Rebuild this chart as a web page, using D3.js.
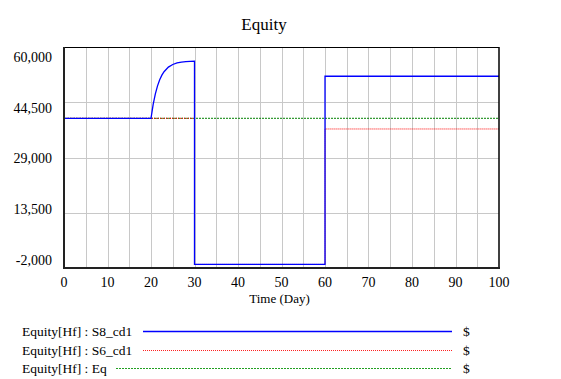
<!DOCTYPE html>
<html><head><meta charset="utf-8">
<script src="https://cdn.jsdelivr.net/npm/d3@7/dist/d3.min.js"></script>
<style>body{margin:0;background:#fff}text{font-family:"Liberation Serif","DejaVu Serif",serif}</style>
</head><body><svg id="c" width="561" height="379"></svg>
<script>
const title = "Equity";
const xLabel = "Time (Day)";
const xTicks = [0,10,20,30,40,50,60,70,80,90,100];
const yTicks = [-2000,13500,29000,44500,60000];
const seriesNames = ["Equity[Hf] : S8_cd1","Equity[Hf] : S6_cd1","Equity[Hf] : Eq"];
const unitLabel = "$";
// S8_cd1 (blue)
const s8Time  = [0,20,20.5,21,21.5,22,22.5,23,24,25,26,27,28,29,30,30,60,60,100];
const s8Value = [40000,40000,43900,46860,49100,50800,52100,53060,54360,55100,55530,55780,55920,55990,56040,-1000,-1000,51800,51800];
// S6_cd1 (red)
const s6Time  = [0,30,30,60,60,100];
const s6Value = [40000,40000,-1000,-1000,37000,37000];
// Eq (green)
const eqTime  = [0,100];
const eqValue = [40000,40000];

const FONT = "Liberation Serif, DejaVu Serif, serif";
const svg = d3.select("#c");
const L=64,R=499,T=47,B=268;
const x = d3.scaleLinear().domain([0,100]).range([L,R]);
const y = d3.scaleLinear().domain([-2000,60000]).range([B,T]);
const yLab = d3.scaleLinear().domain([-2000,60000]).range([B-8,T+10]);

// grid
svg.append("g").selectAll("line").data(d3.range(5,100,5)).join("line")
  .attr("x1",d=>Math.round(x(d))+0.5).attr("x2",d=>Math.round(x(d))+0.5)
  .attr("y1",T).attr("y2",B).attr("stroke","#c8c8c8").attr("stroke-width",1);
svg.append("g").selectAll("line").data(yTicks.slice(1,-1)).join("line")
  .attr("y1",d=>Math.round(y(d))+0.5).attr("y2",d=>Math.round(y(d))+0.5)
  .attr("x1",L).attr("x2",R).attr("stroke","#c8c8c8").attr("stroke-width",1);

// series
const line = d3.line().x(d=>x(d[0])).y(d=>y(d[1]));
const mk = (t,v)=>t.map((d,i)=>[d,v[i]]);
svg.append("path").datum(mk(eqTime,eqValue)).attr("d",line).attr("fill","none")
  .attr("stroke","#008000").attr("stroke-width",1).attr("stroke-dasharray","2,1");
svg.append("path").datum(mk(s6Time,s6Value)).attr("d",line).attr("fill","none")
  .attr("stroke","#ff0000").attr("stroke-width",1).attr("stroke-dasharray","1,1");
svg.append("path").datum(mk(s8Time,s8Value)).attr("d",line).attr("fill","none")
  .attr("stroke","#0000ff").attr("stroke-width",1.3);

// frame
svg.append("line").attr("x1",L).attr("x2",R).attr("y1",T+0.5).attr("y2",T+0.5).attr("stroke","#000").attr("stroke-width",1.2);
svg.append("line").attr("x1",R).attr("x2",R).attr("y1",T).attr("y2",B).attr("stroke","#000").attr("stroke-width",1.5);
svg.append("line").attr("x1",L).attr("x2",L).attr("y1",T).attr("y2",B+1).attr("stroke","#222").attr("stroke-width",2);
svg.append("line").attr("x1",L).attr("x2",R+1).attr("y1",B).attr("y2",B).attr("stroke","#222").attr("stroke-width",2);

// axes labels
const fmt = v => d3.format(",")(v).replace("\u2212","-");
svg.append("g").selectAll("text").data(yTicks).join("text")
  .attr("font-family",FONT)
  .attr("x",52).attr("y",d=>yLab(d)).attr("dy","0.35em").attr("text-anchor","end")
  .attr("font-size",14).attr("fill","#000").text(d=>fmt(d));
svg.append("g").selectAll("text").data(xTicks).join("text")
  .attr("font-family",FONT)
  .attr("x",d=>x(d)).attr("y",287).attr("text-anchor","middle")
  .attr("font-size",14).attr("fill","#000").text(d=>d);
svg.append("text").attr("font-family",FONT).attr("x",(L+R)/2-2).attr("y",303).attr("text-anchor","middle")
  .attr("font-size",13).text(xLabel);
svg.append("text").attr("font-family",FONT).attr("x",264).attr("y",30).attr("text-anchor","middle")
  .attr("font-size",17).text(title);

// legend
const legY=[331.5,350.5,368.5];
const legStart=[143,143,116];
const legStyle=[{c:"#0000ff",w:1.3,d:null},{c:"#ff2020",w:1,d:"1,1"},{c:"#22a022",w:1.2,d:"2,1"}];
seriesNames.forEach((n,i)=>{
  svg.append("text").attr("font-family",FONT).attr("x",22).attr("y",legY[i]).attr("dy","0.35em").attr("font-size",13.5).text(n);
  const l=svg.append("line").attr("x1",legStart[i]).attr("x2",452).attr("y1",legY[i]).attr("y2",legY[i])
    .attr("stroke",legStyle[i].c).attr("stroke-width",legStyle[i].w);
  if(legStyle[i].d) l.attr("stroke-dasharray",legStyle[i].d);
  svg.append("text").attr("font-family",FONT).attr("x",463).attr("y",legY[i]).attr("dy","0.35em").attr("font-size",13.5).text(unitLabel);
});
</script></body></html>
